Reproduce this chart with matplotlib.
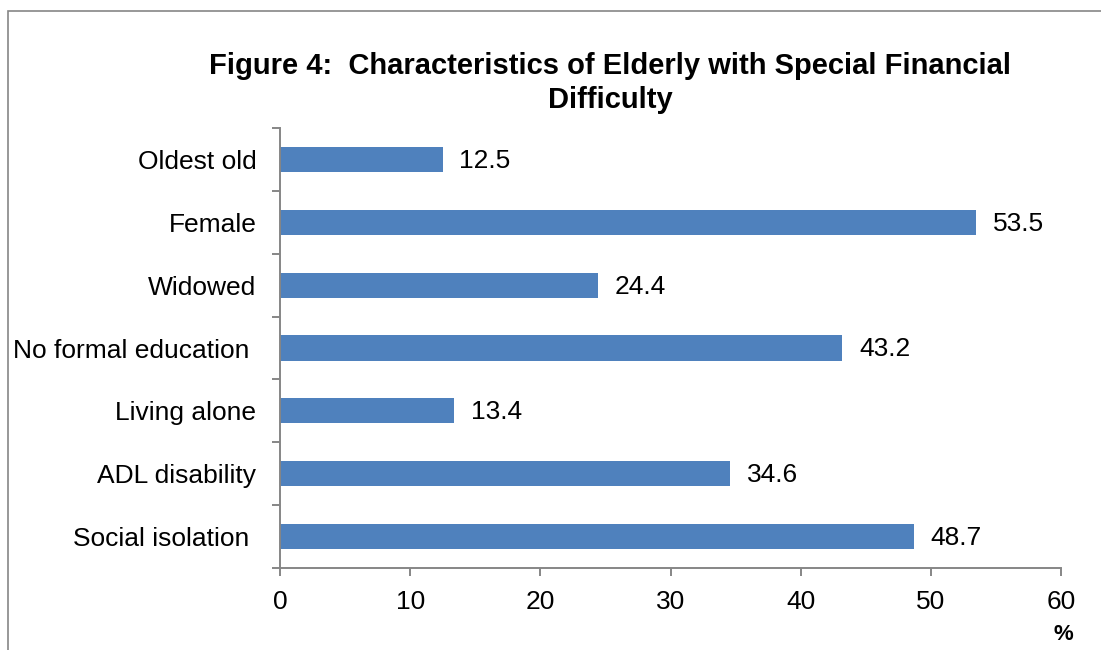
import matplotlib
matplotlib.use('Agg')
import matplotlib.pyplot as plt
from matplotlib.patches import Rectangle
import numpy as np

plt.rcParams['font.family'] = ['Liberation Sans', 'DejaVu Sans']

# Veriler
categories = ['Oldest old', 'Female', 'Widowed', 'No formal education ',
              'Living alone', 'ADL disability', 'Social isolation ']
values = [12.5, 53.5, 24.4, 43.2, 13.4, 34.6, 48.7]
x_ticks = [0, 10, 20, 30, 40, 50, 60]

bar_color = '#4F81BD'
axis_gray = '#868686'

fig = plt.figure(figsize=(11.01, 6.5), dpi=100)
ax = fig.add_axes([280 / 1101, 1 - 568 / 650, 781 / 1101, 440 / 650])

y = np.arange(len(categories))
ax.barh(y, values, height=0.4, color=bar_color)
for yi, v in zip(y, values):
    ax.annotate(f'{v:.1f}', (v, yi), xytext=(12, -1), textcoords='offset points',
                va='center', ha='left', fontsize=19)

ax.set_ylim(len(categories) - 0.5, -0.5)
ax.set_xlim(0, 60)
ax.set_xticks(x_ticks)
ax.set_xticklabels([str(t) for t in x_ticks], fontsize=19)
ax.set_yticks(y)
ax.set_yticklabels(categories, fontsize=19)
ax.set_yticks(np.arange(-0.5, len(categories), 1), minor=True)

ax.tick_params(axis='y', which='major', length=0, pad=17)
ax.tick_params(axis='y', which='minor', length=6, width=1.4, color=axis_gray, direction='out')
ax.tick_params(axis='x', which='major', length=6, width=1.4, color=axis_gray, direction='out', pad=10)

for side in ['top', 'right']:
    ax.spines[side].set_visible(False)
for side in ['left', 'bottom']:
    ax.spines[side].set_color(axis_gray)
    ax.spines[side].set_linewidth(1.4)

fig.text(0.554, 1 - 66 / 650, 'Figure 4:  Characteristics of Elderly with Special Financial',
         ha='center', va='center', fontsize=21, fontweight='bold')
fig.text(0.554, 1 - 100 / 650, 'Difficulty',
         ha='center', va='center', fontsize=21, fontweight='bold')
fig.text(1063 / 1101, 1 - 634 / 650, '%', ha='center', va='center',
         fontsize=16, fontweight='bold')

# Grafik alanı çerçevesi
fig.patches.append(Rectangle((8 / 1101, -0.1), 1.2, 1 - 11 / 650 + 0.1,
                             transform=fig.transFigure, fill=False,
                             edgecolor=axis_gray, linewidth=1.2, clip_on=False))

fig.savefig('out.png', dpi=100)
